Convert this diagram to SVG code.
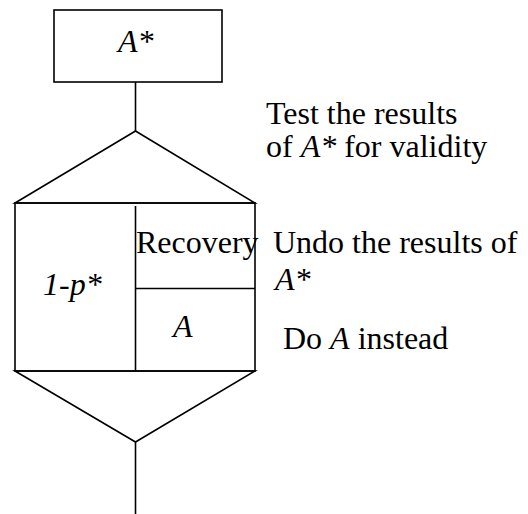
<svg xmlns="http://www.w3.org/2000/svg" width="528" height="514" viewBox="0 0 528 514">
<style>
.s{fill:none;stroke:#000;stroke-width:1.6}
.t{font-family:'Liberation Serif',serif;font-size:32px;fill:#000}
.i{font-style:italic}
</style>
<rect width="528" height="514" fill="#fff"/>
<g id="connectors">
<line class="s" x1="135.5" y1="82" x2="135.5" y2="131"/>
<line class="s" x1="135.5" y1="442" x2="135.5" y2="514"/>
</g>
<g id="nodeAstar">
<rect class="s" x="54" y="10" width="168" height="72"/>
<text class="t i" x="118" y="52">A*</text>
</g>
<g id="test">
<polygon class="s" points="135.5,131 255,203 15,203"/>
<text class="t" x="266" y="124">Test the results</text>
<text class="t" x="266" y="157">of <tspan class="i">A*</tspan> for validity</text>
</g>
<g id="block">
<rect class="s" x="15" y="203" width="240" height="168"/>
<line class="s" x1="135.5" y1="206" x2="135.5" y2="371"/>
<line class="s" x1="135.5" y1="288.5" x2="255" y2="288.5"/>
<text class="t i" x="43" y="295">1-p*</text>
<text class="t" x="136" y="253">Recovery</text>
<text class="t i" x="173" y="337">A</text>
</g>
<g id="notes">
<text class="t" x="273" y="253">Undo the results of</text>
<text class="t i" x="275" y="290">A*</text>
<text class="t" x="283" y="349">Do <tspan class="i">A</tspan> instead</text>
</g>
<g id="join">
<polygon class="s" points="15,371 255,371 135.5,442"/>
</g>
</svg>
